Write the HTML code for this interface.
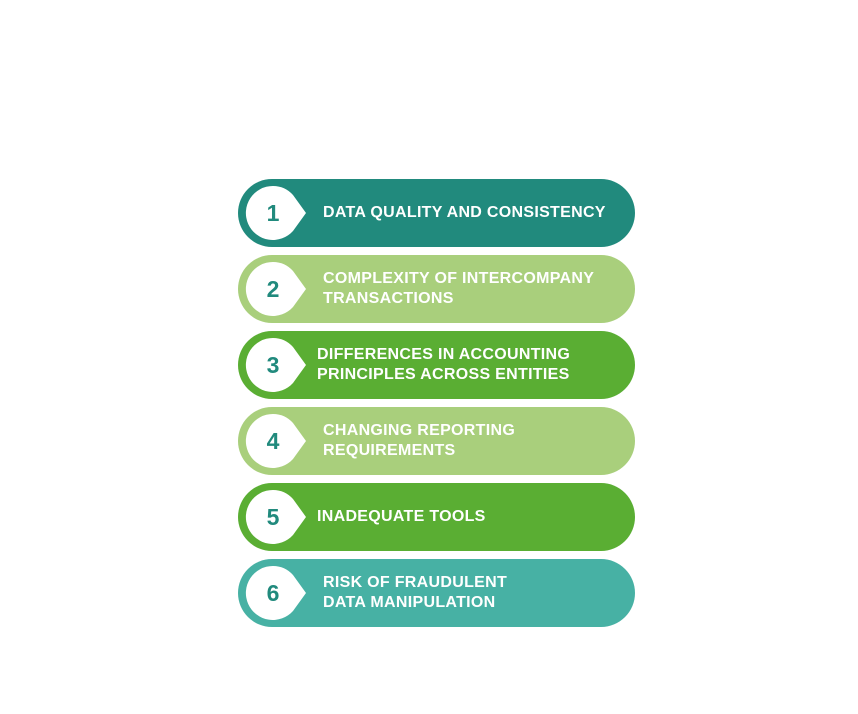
<!DOCTYPE html>
<html><head><style>
body{margin:0;width:858px;height:714px;background:#fff;position:relative;font-family:"Liberation Sans",sans-serif;}
.p{position:absolute;left:238px;width:397px;height:68px;border-radius:34px;}
.p svg{position:absolute;left:0;top:0;}
.t{position:absolute;top:0;height:68px;display:flex;align-items:center;color:#fff;font-weight:bold;font-size:16px;line-height:20px;letter-spacing:0.3px;}
.n{position:absolute;left:22px;width:26px;top:0;height:68px;display:flex;align-items:center;justify-content:center;color:#218a7d;font-weight:bold;font-size:23px;}
</style></head><body>
<div class="p" style="top:179px;background:#218a7d"><svg width="80" height="68"><path d="M35 7 A27 27 0 1 0 55 52 L68 34 L55 16 A27 27 0 0 0 35 7Z" fill="#fff"/></svg><div class="n">1</div><div class="t" style="left:85px">DATA QUALITY AND CONSISTENCY</div></div>
<div class="p" style="top:255px;background:#a9cf7c"><svg width="80" height="68"><path d="M35 7 A27 27 0 1 0 55 52 L68 34 L55 16 A27 27 0 0 0 35 7Z" fill="#fff"/></svg><div class="n">2</div><div class="t" style="left:85px">COMPLEXITY OF INTERCOMPANY<br>TRANSACTIONS</div></div>
<div class="p" style="top:331px;background:#5aae33"><svg width="80" height="68"><path d="M35 7 A27 27 0 1 0 55 52 L68 34 L55 16 A27 27 0 0 0 35 7Z" fill="#fff"/></svg><div class="n">3</div><div class="t" style="left:79px">DIFFERENCES IN ACCOUNTING<br>PRINCIPLES ACROSS ENTITIES</div></div>
<div class="p" style="top:407px;background:#a9cf7c"><svg width="80" height="68"><path d="M35 7 A27 27 0 1 0 55 52 L68 34 L55 16 A27 27 0 0 0 35 7Z" fill="#fff"/></svg><div class="n">4</div><div class="t" style="left:85px">CHANGING REPORTING<br>REQUIREMENTS</div></div>
<div class="p" style="top:483px;background:#5aae33"><svg width="80" height="68"><path d="M35 7 A27 27 0 1 0 55 52 L68 34 L55 16 A27 27 0 0 0 35 7Z" fill="#fff"/></svg><div class="n">5</div><div class="t" style="left:79px">INADEQUATE TOOLS</div></div>
<div class="p" style="top:559px;background:#47b1a4"><svg width="80" height="68"><path d="M35 7 A27 27 0 1 0 55 52 L68 34 L55 16 A27 27 0 0 0 35 7Z" fill="#fff"/></svg><div class="n">6</div><div class="t" style="left:85px">RISK OF FRAUDULENT<br>DATA MANIPULATION</div></div>
</body></html>
